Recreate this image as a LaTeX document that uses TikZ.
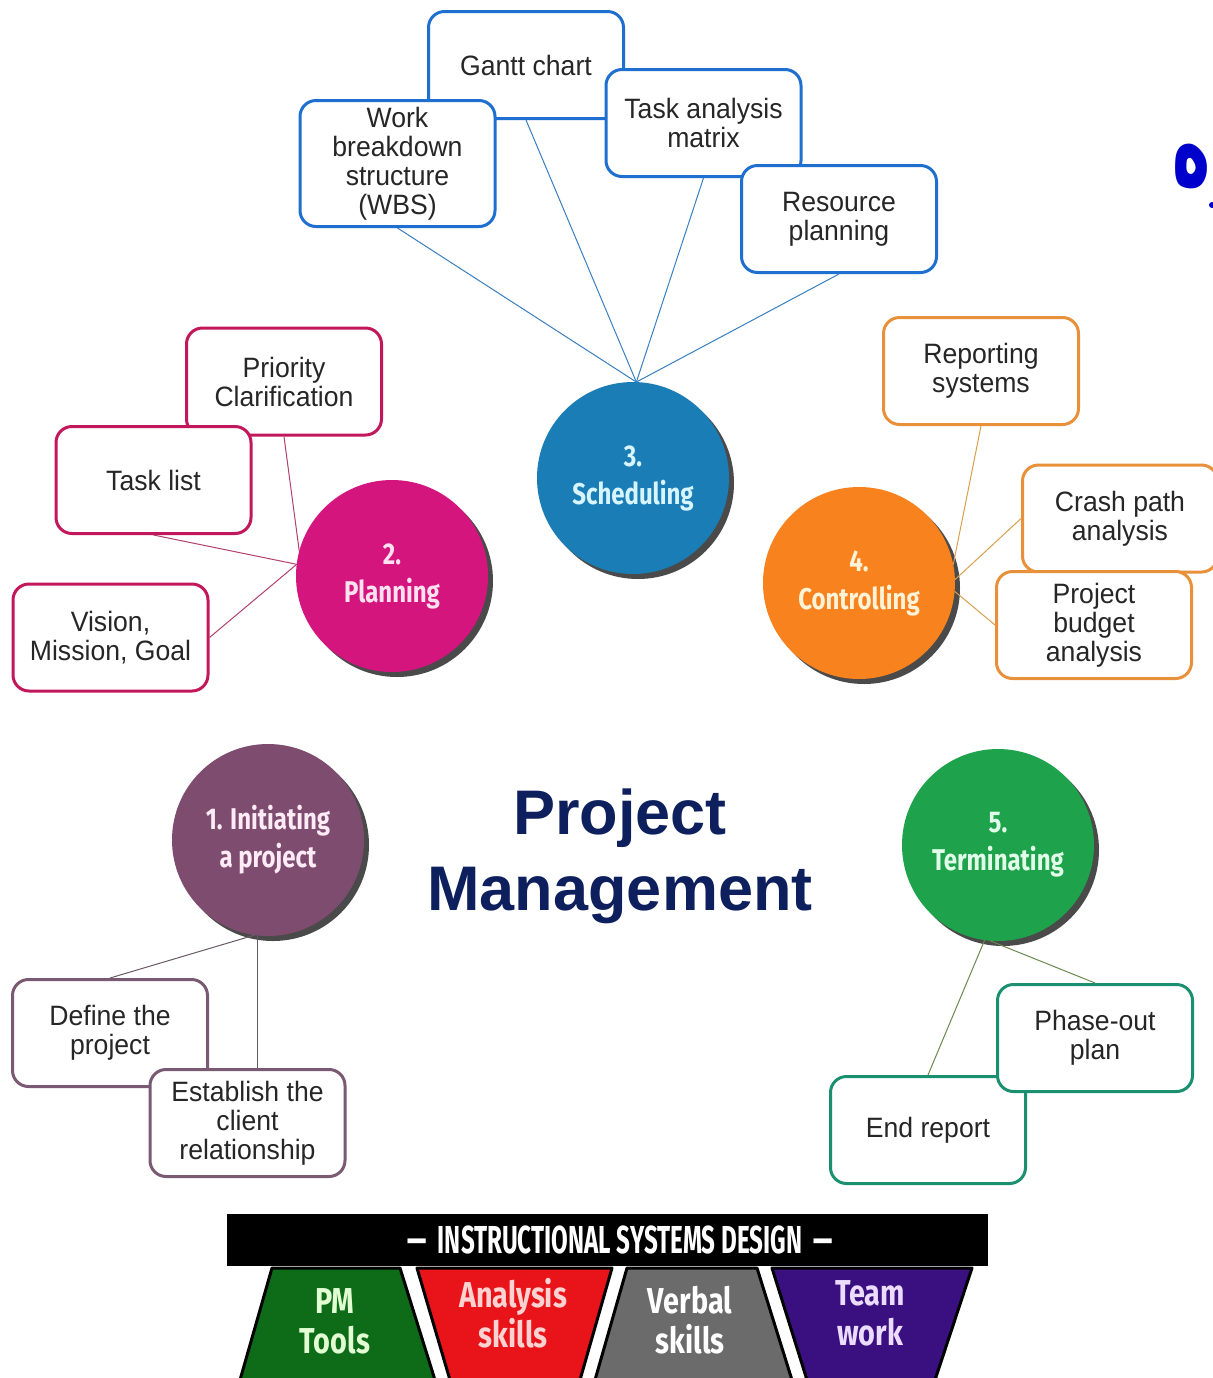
\documentclass[tikz,border=0pt]{standalone}
\usepackage{fontspec}
\setmainfont{Liberation Sans}
\newfontfamily\boxfont[FakeStretch=0.95]{Liberation Sans}
\newfontfamily\circfont[FakeStretch=0.8]{Fira Sans}
\newfontfamily\barfont[FakeStretch=0.62]{Fira Sans}
\newfontfamily\arabicfont[Script=Arabic]{DejaVu Sans}
\TeXXeTstate=1
\usetikzlibrary{shadows}
\definecolor{textgray}{HTML}{262626}
\definecolor{bbord}{HTML}{1F6FD0}
\definecolor{pbord}{HTML}{C2185B}
\definecolor{obord}{HTML}{E8913A}
\definecolor{mbord}{HTML}{7A5A72}
\definecolor{gbord}{HTML}{1A9070}
\definecolor{bline}{HTML}{3A7FC0}
\definecolor{pline}{HTML}{B0406F}
\definecolor{oline}{HTML}{D9A050}
\definecolor{mline}{HTML}{6A5A68}
\definecolor{gline}{HTML}{6A8A50}
\definecolor{cblue}{HTML}{1B7DB5}
\definecolor{cmag}{HTML}{D5157E}
\definecolor{corange}{HTML}{F7821E}
\definecolor{cmauve}{HTML}{7D4C6F}
\definecolor{cgreen}{HTML}{1EA24C}
\definecolor{shadowgray}{HTML}{4A4A4A}
\definecolor{navy}{HTML}{0D1F5C}
\definecolor{tgreen}{HTML}{0E6B17}
\definecolor{tred}{HTML}{E8141A}
\definecolor{tgray}{HTML}{6B6B6B}
\definecolor{tpurple}{HTML}{3A1080}
\definecolor{arblue}{HTML}{0000CC}
\tikzset{
  box/.style={draw, line width=1.5pt, fill=white, rounded corners=8pt,
    minimum width=97.5pt, minimum height=53.5pt, inner sep=0pt, align=center,
    text=textgray, font=\boxfont\fontsize{14}{14.5}\selectfont},
  phasecirc/.style={circle, minimum size=96pt, inner sep=0pt, outer sep=0pt, align=center,
    font=\circfont\bfseries\fontsize{15}{19}\selectfont,
    drop shadow={shadow xshift=2.5pt, shadow yshift=-2.5pt, fill=shadowgray, opacity=1}},
  conn/.style={line width=0.5pt},
  trap/.style={draw=black, line width=1.5pt, line join=round},
  traptext/.style={align=center, font=\circfont\bfseries\fontsize{18}{20}\selectfont}
}
\begin{document}
\begin{tikzpicture}[x=0.5pt,y=-0.5pt]
\useasboundingbox (0,0) rectangle (1213,1378);
\fill[white] (0,0) rectangle (1213,1378);

\coordinate (schedc) at (633,478);
\coordinate (planc) at (392,576);
\coordinate (ctrlc) at (859,583);
\coordinate (initc) at (268,840);
\coordinate (termc) at (998,845);

\node[phasecirc, fill=cblue, text={rgb,255:red,215;green,245;blue,255}] (sched) at (schedc) {3.\\Scheduling};
\node[phasecirc, fill=cmag, text={rgb,255:red,255;green,225;blue,240}] (plan) at (planc) {2.\\Planning};
\node[phasecirc, fill=corange, text={rgb,255:red,255;green,243;blue,215}] (ctrl) at (ctrlc) {4.\\Controlling};
\node[phasecirc, fill=cmauve, text={rgb,255:red,255;green,235;blue,245}] (init) at (initc) {1. Initiating\\a project};
\node[phasecirc, fill=cgreen, text={rgb,255:red,225;green,255;blue,232}] (term) at (termc) {5.\\Terminating};

% scheduling boxes
\node[box, draw=bbord] (gantt) at (526,65) {Gantt chart};
\node[box, draw=bbord, minimum height=63pt] (wbs) at (397.5,163.5) {Work\\breakdown\\structure\\(WBS)};
\node[box, draw=bbord] (task) at (703.5,123) {Task analysis\\matrix};
\node[box, draw=bbord] (res) at (839,219) {Resource\\planning};

% planning boxes
\node[box, draw=pbord] (prio) at (284,381.5) {Priority\\Clarification};
\node[box, draw=pbord] (tlist) at (153.5,480) {Task list};
\node[box, draw=pbord] (vision) at (110.5,637.5) {Vision,\\Mission, Goal};

% controlling boxes
\node[box, draw=obord] (report) at (981,371) {Reporting\\systems};
\node[box, draw=obord] (crash) at (1120,518.5) {Crash path\\analysis};
\node[box, draw=obord] (budget) at (1094,625) {Project\\budget\\analysis};

% initiating boxes
\node[box, draw=mbord] (define) at (110,1033) {Define the\\project};
\node[box, draw=mbord] (establish) at (247.5,1123) {Establish the\\client\\relationship};

% terminating boxes
\node[box, draw=gbord] (endrep) at (928,1130) {End report};
\node[box, draw=gbord] (phaseout) at (1095,1038) {Phase-out\\plan};

% connectors
\draw[conn, bline] (wbs.south) -- (sched.88);
\draw[conn, bline] (gantt.south) -- (sched.88);
\draw[conn, bline] (task.south) -- (sched.88);
\draw[conn, bline] (res.south) -- (sched.88);
\draw[conn, pline] (prio.south) -- (plan.165);
\draw[conn, pline] (tlist.south) -- (plan.173);
\draw[conn, pline] (vision.east) -- (plan.173);
\draw[conn, oline] (report.south) -- (ctrl.11);
\draw[conn, oline] (crash.west) -- (ctrl.2);
\draw[conn, oline] (budget.west) -- (ctrl.355);
\draw[conn, mline] (define.north) -- (init.262);
\draw[conn, mline] (init.264) -- (init.264 |- establish.north);
\draw[conn, gline] (endrep.north) -- (term.262);
\draw[conn, gline] (phaseout.north) -- (term.265);

% title
\node[align=center, text=navy, font=\bfseries\fontsize{31.5}{38}\selectfont] (title) at (620,856) {Project\\Management};

% Arabic fragment at top right
\node[text=arblue, font=\arabicfont\bfseries\fontsize{34}{34}\selectfont] (arab) at (1192,166) {\scalebox{0.95}[1.7]{\beginR ه\endR}};
\fill[arblue] (1212,205) circle (3);

% bottom banner
\fill[black] (227,1214) rectangle (988,1266);
\node[text=white, font=\barfont\bfseries\fontsize{19.5}{20}\selectfont] (bartitle) at (620,1240) {\textemdash\ \ INSTRUCTIONAL SYSTEMS DESIGN \ \textemdash};

\filldraw[trap, fill=tgreen] (272,1268) -- (400,1268) -- (435,1380) -- (240,1380) -- cycle;
\filldraw[trap, fill=tred] (417,1268) -- (612,1268) -- (580,1380) -- (450,1380) -- cycle;
\filldraw[trap, fill=tgray] (627,1268) -- (757,1268) -- (792,1380) -- (595,1380) -- cycle;
\filldraw[trap, fill=tpurple] (772,1268) -- (972,1268) -- (935,1380) -- (807,1380) -- cycle;

\node[traptext, text={rgb,255:red,225;green,255;blue,210}] (pmtools) at (335,1321) {PM\\Tools};
\node[traptext, text={rgb,255:red,255;green,210;blue,210}] (analysis) at (513,1313) {Analysis\\skills};
\node[traptext, text=white] (verbal) at (690,1320) {Verbal\\skills};
\node[traptext, text={rgb,255:red,235;green,220;blue,255}] (team) at (870,1313) {Team\\work};
\end{tikzpicture}
\end{document}
